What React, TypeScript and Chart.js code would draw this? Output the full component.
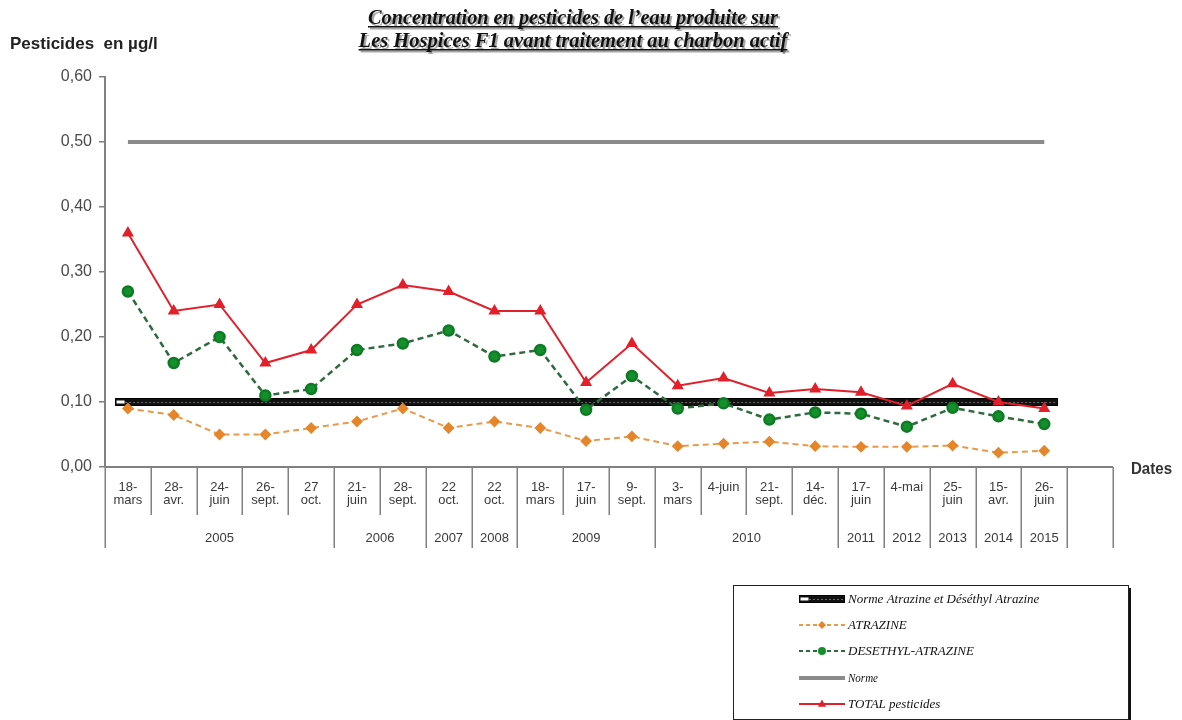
import React, { useEffect, useRef } from 'react';
import { Chart, registerables } from 'chart.js';

Chart.register(...registerables);

// ---------- data ----------
const dateLabels: string[][] = [
  ['18-', 'mars'], ['28-', 'avr.'], ['24-', 'juin'], ['26-', 'sept.'], ['27', 'oct.'],
  ['21-', 'juin'], ['28-', 'sept.'],
  ['22', 'oct.'],
  ['22', 'oct.'],
  ['18-', 'mars'], ['17-', 'juin'], ['9-', 'sept.'],
  ['3-', 'mars'], ['4-juin'], ['21-', 'sept.'], ['14-', 'déc.'],
  ['17-', 'juin'],
  ['4-mai'],
  ['25-', 'juin'],
  ['15-', 'avr.'],
  ['26-', 'juin'],
  [''],
];
const yearLabels: string[] = ['2005', '2006', '2007', '2008', '2009', '2010', '2011', '2012', '2013', '2014', '2015'];
const yearStart: number[] = [0, 5, 7, 8, 9, 12, 16, 17, 18, 19, 20];
const yearEnd: number[] = [4, 6, 7, 8, 11, 15, 16, 17, 18, 19, 20];

const atrazine: number[] = [0.09, 0.08, 0.05, 0.05, 0.06, 0.07, 0.09, 0.06, 0.07, 0.06, 0.04, 0.047, 0.032, 0.036, 0.039, 0.032, 0.031, 0.031, 0.033, 0.022, 0.025];
const desethylAtrazine: number[] = [0.27, 0.16, 0.2, 0.11, 0.12, 0.18, 0.19, 0.21, 0.17, 0.18, 0.088, 0.14, 0.09, 0.098, 0.073, 0.084, 0.082, 0.062, 0.091, 0.078, 0.066];
const totalPesticides: number[] = [0.36, 0.24, 0.25, 0.16, 0.18, 0.25, 0.28, 0.27, 0.24, 0.24, 0.13, 0.19, 0.125, 0.137, 0.114, 0.12, 0.115, 0.094, 0.128, 0.1, 0.09];
const normeAtrazine: number[] = [0.1, 0.1, 0.1, 0.1, 0.1, 0.1, 0.1, 0.1, 0.1, 0.1, 0.1, 0.1, 0.1, 0.1, 0.1, 0.1, 0.1, 0.1, 0.1, 0.1, 0.1];
const normeTotal: number[] = [0.5, 0.5, 0.5, 0.5, 0.5, 0.5, 0.5, 0.5, 0.5, 0.5, 0.5, 0.5, 0.5, 0.5, 0.5, 0.5, 0.5, 0.5, 0.5, 0.5, 0.5];

const yMin = 0;
const yMax = 0.6;
const yStep = 0.1;

const titleLines: string[] = [
  'Concentration en pesticides de l’eau produite sur',
  'Les Hospices F1 avant traitement au charbon actif',
];
const yTitle = 'Pesticides  en µg/l';
const xTitle = 'Dates';
const legendLabels: string[] = [
  'Norme Atrazine et Déséthyl Atrazine',
  'ATRAZINE',
  'DESETHYL-ATRAZINE',
  'Norme',
  'TOTAL pesticides',
];

// ---------- styles ----------
const SANS = "'Liberation Sans', Arial, sans-serif";
const SERIF = "'Liberation Serif', 'Times New Roman', serif";
const ORANGE = '#e5862a';
const ORANGE_LINE = '#e89a4a';
const GREEN = '#13902b';
const GREEN_LINE = '#2f6a3c';
const RED = '#e2202b';
const GREY = '#8a8a8a';
const AXIS = '#808080';

function drawMarker(ctx: CanvasRenderingContext2D, kind: string, x: number, y: number, r: number, color: string) {
  ctx.save();
  ctx.fillStyle = color;
  ctx.strokeStyle = color;
  ctx.setLineDash([]);
  ctx.beginPath();
  if (kind === 'diamond') {
    ctx.moveTo(x, y - r); ctx.lineTo(x + r, y); ctx.lineTo(x, y + r); ctx.lineTo(x - r, y); ctx.closePath();
  } else if (kind === 'circle') {
    ctx.arc(x, y, r, 0, Math.PI * 2);
  } else if (kind === 'triangle') {
    ctx.moveTo(x, y - r); ctx.lineTo(x + r * 0.9, y + r * 0.6); ctx.lineTo(x - r * 0.9, y + r * 0.6); ctx.closePath();
  }
  ctx.fill();
  ctx.restore();
}

function drawBlackNorm(ctx: CanvasRenderingContext2D, x1: number, x2: number, y: number) {
  ctx.save();
  ctx.fillStyle = '#111';
  ctx.fillRect(x1, y - 3, x2 - x1, 6);
  ctx.strokeStyle = '#000';
  ctx.lineWidth = 1;
  ctx.strokeRect(x1 + 0.5, y - 3.5, x2 - x1 - 1, 7);
  ctx.strokeStyle = '#6a6a6a';
  ctx.setLineDash([2, 2]);
  ctx.beginPath();
  ctx.moveTo(x1 + 10, y + 0.5);
  ctx.lineTo(x2 - 2, y + 0.5);
  ctx.stroke();
  ctx.fillStyle = '#fff';
  ctx.fillRect(x1 + 1.5, y - 1.5, 8, 3);
  ctx.restore();
}

const normPlugin = {
  id: 'normAtrazine',
  beforeDatasetsDraw(chart: any) {
    const { ctx, scales } = chart;
    const x = scales.x;
    const y = scales.y;
    const yy = y.getPixelForValue(normeAtrazine[0]);
    const x1 = x.getPixelForValue(-0.28);
    const x2 = x.getPixelForValue(normeAtrazine.length - 1 + 0.3);
    drawBlackNorm(ctx, x1, x2, yy);
  },
};

const decorPlugin = {
  id: 'decor',
  afterDraw(chart: any) {
    const { ctx, chartArea, scales } = chart;
    const x = scales.x;
    const y0 = chartArea.bottom;
    ctx.save();

    // x axis line
    ctx.strokeStyle = AXIS;
    ctx.lineWidth = 2;
    ctx.beginPath();
    ctx.moveTo(chartArea.left, y0);
    ctx.lineTo(chartArea.right, y0);
    ctx.stroke();

    // dividers
    const longBounds = new Set<number>();
    yearStart.forEach((s) => longBounds.add(s));
    yearEnd.forEach((e) => longBounds.add(e + 1));
    longBounds.add(dateLabels.length);
    ctx.lineWidth = 1.5;
    ctx.strokeStyle = AXIS;
    for (let i = 0; i <= dateLabels.length; i++) {
      const bx = Math.round(x.getPixelForValue(i - 0.5)) + 0.25;
      ctx.beginPath();
      ctx.moveTo(bx, y0);
      ctx.lineTo(bx, y0 + (longBounds.has(i) ? 81 : 48));
      ctx.stroke();
    }

    // date labels
    ctx.fillStyle = '#3a3a3a';
    ctx.font = `13px ${SANS}`;
    ctx.textAlign = 'center';
    ctx.textBaseline = 'middle';
    dateLabels.forEach((lines, i) => {
      const cx = x.getPixelForValue(i);
      lines.forEach((t, k) => {
        ctx.fillText(t, cx, y0 + 20 + k * 13.5, 43);
      });
    });
    // year labels
    yearLabels.forEach((yl, k) => {
      const a = x.getPixelForValue(yearStart[k] - 0.5);
      const b = x.getPixelForValue(yearEnd[k] + 0.5);
      ctx.fillText(yl, (a + b) / 2, y0 + 71, 42);
    });

    // axis titles
    ctx.fillStyle = '#222';
    ctx.font = `bold 17px ${SANS}`;
    ctx.textAlign = 'left';
    ctx.textBaseline = 'alphabetic';
    ctx.fillText(yTitle, 10, 49, 148);
    ctx.fillStyle = '#333';
    ctx.fillText(xTitle, 1131, 474, 41);

    // chart title with shadow + underline
    ctx.font = `italic bold 20.5px ${SERIF}`;
    ctx.textAlign = 'center';
    const tcx = 573;
    const baselines = [24, 47];
    const maxW = [410, 433];
    titleLines.forEach((t, k) => {
      const w = Math.min(ctx.measureText(t).width, maxW[k]);
      const by = baselines[k];
      // shadow
      ctx.fillStyle = 'rgba(0,0,0,0.35)';
      ctx.fillText(t, tcx + 2, by + 2, maxW[k]);
      ctx.fillRect(tcx - w / 2 + 2, by + 3.5, w, 2);
      ctx.fillStyle = '#111';
      ctx.fillText(t, tcx, by, maxW[k]);
      ctx.fillRect(tcx - w / 2, by + 2, w, 1.5);
    });

    // legend box
    const lx = 733, ly = 585, lw = 395, lh = 134;
    ctx.fillStyle = '#fff';
    ctx.fillRect(lx, ly, lw, lh);
    ctx.fillStyle = '#111';
    ctx.fillRect(lx + lw, ly + 3, 3, lh);
    ctx.fillRect(lx + 3, ly + lh, lw, 3);
    ctx.strokeStyle = '#222';
    ctx.lineWidth = 1;
    ctx.strokeRect(lx + 0.5, ly + 0.5, lw, lh);

    const rowY = [599, 625, 651, 678, 704];
    const sx1 = 799, sx2 = 845, mx = 822;
    const textW = [218, 64, 152, 30, 107];
    // row 1: black norm
    drawBlackNorm(ctx, sx1, sx2, rowY[0]);
    // row 2: atrazine
    ctx.setLineDash([4, 3]);
    ctx.lineWidth = 2;
    ctx.strokeStyle = ORANGE_LINE;
    ctx.beginPath(); ctx.moveTo(sx1, rowY[1]); ctx.lineTo(sx2, rowY[1]); ctx.stroke();
    drawMarker(ctx, 'diamond', mx, rowY[1], 4, ORANGE);
    // row 3: desethyl
    ctx.setLineDash([4, 3]);
    ctx.strokeStyle = GREEN_LINE;
    ctx.beginPath(); ctx.moveTo(sx1, rowY[2]); ctx.lineTo(sx2, rowY[2]); ctx.stroke();
    drawMarker(ctx, 'circle', mx, rowY[2], 4, GREEN);
    // row 4: norme
    ctx.setLineDash([]);
    ctx.lineWidth = 4;
    ctx.strokeStyle = GREY;
    ctx.beginPath(); ctx.moveTo(sx1, rowY[3]); ctx.lineTo(sx2, rowY[3]); ctx.stroke();
    // row 5: total
    ctx.lineWidth = 2;
    ctx.strokeStyle = RED;
    ctx.beginPath(); ctx.moveTo(sx1, rowY[4]); ctx.lineTo(sx2, rowY[4]); ctx.stroke();
    drawMarker(ctx, 'triangle', mx, rowY[4], 4.5, RED);

    ctx.fillStyle = '#111';
    ctx.font = `italic 13px ${SERIF}`;
    ctx.textAlign = 'left';
    ctx.textBaseline = 'middle';
    legendLabels.forEach((t, k) => {
      ctx.fillText(t, 848, rowY[k] + 1, textW[k]);
    });

    ctx.restore();
  },
};

export default function App() {
  const canvasRef = useRef<HTMLCanvasElement | null>(null);

  useEffect(() => {
    const canvas = canvasRef.current;
    if (!canvas) return;
    const chart = new Chart(canvas, {
      type: 'line',
      data: {
        labels: dateLabels.map((l) => l.join(' ')),
        datasets: [
          {
            label: legendLabels[4],
            data: totalPesticides,
            borderColor: RED,
            backgroundColor: RED,
            borderWidth: 2,
            pointStyle: 'triangle',
            pointRadius: 5,
            pointBackgroundColor: RED,
            pointBorderColor: RED,
            tension: 0,
          },
          {
            label: legendLabels[2],
            data: desethylAtrazine,
            borderColor: GREEN_LINE,
            backgroundColor: GREEN,
            borderWidth: 2.5,
            borderDash: [6, 4],
            pointStyle: 'circle',
            pointRadius: 5,
            pointBackgroundColor: GREEN,
            pointBorderColor: '#0f7a24',
            tension: 0,
          },
          {
            label: legendLabels[1],
            data: atrazine,
            borderColor: ORANGE_LINE,
            backgroundColor: ORANGE,
            borderWidth: 2,
            borderDash: [6, 4],
            pointStyle: 'rectRot',
            pointRadius: 4.5,
            pointBackgroundColor: ORANGE,
            pointBorderColor: ORANGE,
            tension: 0,
          },
          {
            label: legendLabels[3],
            data: normeTotal,
            borderColor: GREY,
            backgroundColor: GREY,
            borderWidth: 4,
            pointRadius: 0,
            tension: 0,
          },
        ],
      },
      options: {
        responsive: false,
        animation: false,
        devicePixelRatio: 1,
        layout: { padding: { left: 8, right: 69, top: 77, bottom: 253 } },
        plugins: {
          legend: { display: false },
          title: { display: false },
          tooltip: { enabled: false },
        },
        scales: {
          x: {
            type: 'category',
            display: false,
            offset: true,
          },
          y: {
            type: 'linear',
            min: yMin,
            max: yMax,
            afterFit: (scale: any) => {
              scale.width = 97;
            },
            ticks: {
              stepSize: yStep,
              padding: 7,
              color: '#4a4a4a',
              font: { family: SANS, size: 16 },
              callback: (v: any) => Number(v).toFixed(2).replace('.', ','),
            },
            grid: {
              drawOnChartArea: false,
              drawTicks: true,
              tickLength: 6,
              color: AXIS,
              lineWidth: 1.5,
            },
            border: { display: true, color: AXIS, width: 2 },
          },
        },
      },
      plugins: [normPlugin, decorPlugin],
    } as any);
    return () => chart.destroy();
  }, []);

  return (
    <div style={{ position: 'absolute', left: 0, top: 0, width: 1182, height: 720, background: '#fff' }}>
      <canvas ref={canvasRef} width={1182} height={720} style={{ width: 1182, height: 720, display: 'block' }} />
    </div>
  );
}
